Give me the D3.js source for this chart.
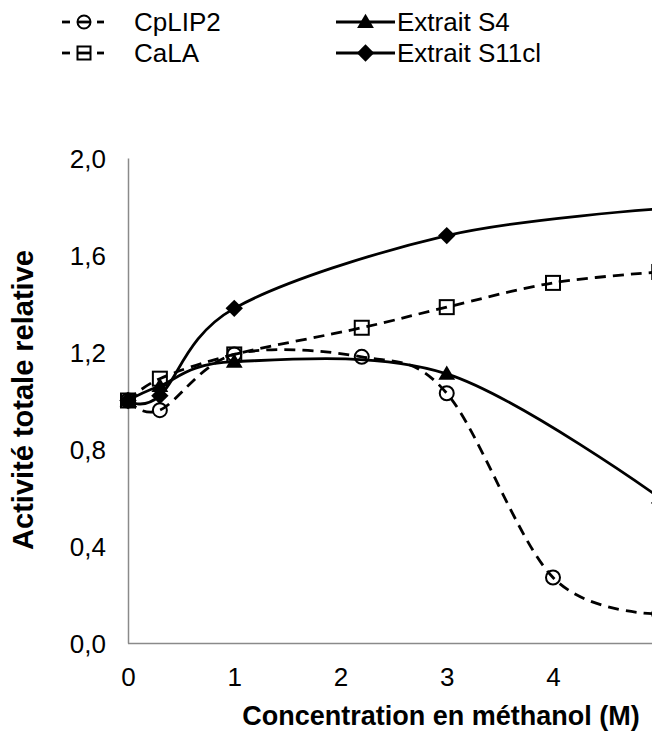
<!DOCTYPE html>
<html><head><meta charset="utf-8">
<script src="https://cdn.jsdelivr.net/npm/d3@7"></script>
<style>body{margin:0;background:#fff}svg{display:block}text{font-family:"Liberation Sans",Arial,sans-serif;fill:#000}</style>
</head><body><svg id="c" width="652" height="731"></svg>
<script>
// ---- data ----
const seriesNames = ["CpLIP2", "CaLA", "Extrait S4", "Extrait S11cl"];
const concentrations = [0, 0.3, 1, 2.2, 3, 4, 5];
const cplip2 = [1.00, 0.96, 1.19, 1.18, 1.03, 0.27, 0.12];
const cala   = [1.00, 1.09, 1.19, 1.30, 1.385, 1.485, 1.53];
const s4Conc = [0, 0.3, 1, 3, 5];
const s4     = [1.00, 1.06, 1.16, 1.11, 0.60];
const s11Conc = [0, 0.3, 1, 3, 5];
const s11    = [1.00, 1.02, 1.38, 1.68, 1.79];
const yTicks = [0, 0.4, 0.8, 1.2, 1.6, 2.0];
const xTicks = [0, 1, 2, 3, 4];
const xTitle = "Concentration en méthanol (M)";
const yTitle = "Activité totale relative";

const FONT = '"Liberation Sans",Arial,sans-serif';
const svg = d3.select("#c");
const x = d3.scaleLinear().domain([0, 5]).range([128, 659.25]);
const y = d3.scaleLinear().domain([0, 2]).range([643, 158]);
const fmt = v => d3.format(".1f")(v).replace(".", ",");

// axes
const gy = svg.append("g").attr("transform", `translate(${x(0)},0)`)
  .call(d3.axisLeft(y).tickValues(yTicks).tickSize(0).tickPadding(22).tickFormat(fmt));
const gx = svg.append("g").attr("transform", `translate(0,${y(0)})`)
  .call(d3.axisBottom(x).tickValues(xTicks).tickSize(0).tickPadding(25).tickFormat(d3.format("d")));
[gx, gy].forEach(g => {
  g.select(".domain").attr("stroke", "#8a8a8a").attr("stroke-width", 1.5);
  g.selectAll("text").attr("font-size", 26).attr("font-family", FONT).attr("fill", "#000");
});
gy.selectAll("text").attr("dy", "0.36em");
gx.select(".domain").attr("d", `M${x(0)},0.5H652`);

// titles
svg.append("text").attr("x", 441).attr("y", 725).attr("text-anchor", "middle")
  .attr("font-size", 27).attr("font-weight", "bold").text(xTitle);
svg.append("text").attr("transform", "translate(33,400) rotate(-90)").attr("text-anchor", "middle")
  .attr("font-size", 29).attr("font-weight", "bold").text(yTitle);

// series
const curve = d3.curveCardinal.tension(0);
const series = [
  {name: "CpLIP2", xs: concentrations, ys: cplip2, dash: "11,7", marker: "circle"},
  {name: "CaLA", xs: concentrations, ys: cala, dash: "11,7", marker: "square"},
  {name: "Extrait S4", xs: s4Conc, ys: s4, dash: null, marker: "triangle"},
  {name: "Extrait S11cl", xs: s11Conc, ys: s11, dash: null, marker: "diamond"}
];
const plot = svg.append("g");
function drawMarker(g, type, cx, cy, s) {
  if (type === "circle") {
    g.append("circle").attr("cx", cx).attr("cy", cy).attr("r", s * 0.5)
      .attr("fill", "none").attr("stroke", "#000").attr("stroke-width", 2);
  } else if (type === "square") {
    g.append("rect").attr("x", cx - s / 2).attr("y", cy - s / 2).attr("width", s).attr("height", s)
      .attr("fill", "none").attr("stroke", "#000").attr("stroke-width", 2);
  } else if (type === "triangle") {
    const h = s * 0.95;
    g.append("path").attr("d", `M${cx},${cy - h * 0.62}L${cx + s * 0.6},${cy + h * 0.45}L${cx - s * 0.6},${cy + h * 0.45}Z`)
      .attr("fill", "#000");
  } else {
    const r = s * 0.62;
    g.append("path").attr("d", `M${cx},${cy - r}L${cx + r},${cy}L${cx},${cy + r}L${cx - r},${cy}Z`).attr("fill", "#000");
  }
}
series.forEach(s => {
  const pts = s.xs.map((c, i) => [x(c), y(s.ys[i])]);
  plot.append("path").attr("d", d3.line().curve(curve)(pts))
    .attr("fill", "none").attr("stroke", "#000").attr("stroke-width", 2.8)
    .attr("stroke-dasharray", s.dash);
});
series.forEach(s => {
  s.xs.forEach((c, i) => drawMarker(plot, s.marker, x(c), y(s.ys[i]), 14));
});

// legend
const legendItems = [
  {s: series[0], lx: 62, ly: 22, tx: 134, w: 40},
  {s: series[1], lx: 62, ly: 53, tx: 134, w: 40},
  {s: series[2], lx: 336, ly: 22, tx: 397, w: 59},
  {s: series[3], lx: 336, ly: 53, tx: 397, w: 59}
];
legendItems.forEach(it => {
  const g = svg.append("g");
  if (it.s.dash) {
    [[0, 8], [15, 29], [35, 42]].forEach(([a, b]) => {
      g.append("line").attr("x1", it.lx + a).attr("x2", it.lx + b).attr("y1", it.ly).attr("y2", it.ly)
        .attr("stroke", "#000").attr("stroke-width", 2.8);
    });
    drawMarker(g, it.s.marker, it.lx + 22, it.ly, 13);
  } else {
    g.append("line").attr("x1", it.lx).attr("x2", it.lx + it.w).attr("y1", it.ly).attr("y2", it.ly)
      .attr("stroke", "#000").attr("stroke-width", 2.8);
    drawMarker(g, it.s.marker, it.lx + it.w / 2, it.ly, 14);
  }
  g.append("text").attr("x", it.tx).attr("y", it.ly).attr("dy", "0.36em")
    .attr("font-size", 26).text(it.s.name);
});
</script></body></html>
